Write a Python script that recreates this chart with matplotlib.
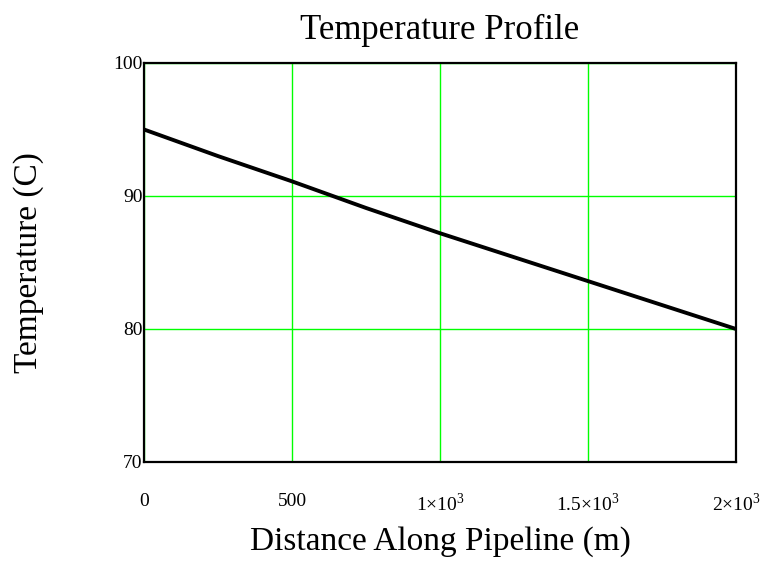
import numpy as np
import matplotlib
matplotlib.use('Agg')
import matplotlib.pyplot as plt

# values
distance = [0, 250, 500, 750, 1000, 1250, 1500, 1750, 2000]
temperature = [95.0, 93.0, 91.1, 89.1, 87.2, 85.4, 83.6, 81.8, 80.0]

x_ticks = [0, 500, 1000, 1500, 2000]
x_labels = ['0', '500', '1×10$^{3}$', '1.5×10$^{3}$', '2×10$^{3}$']
y_ticks = [70, 80, 90, 100]

plt.rcParams['font.family'] = ['Liberation Serif', 'DejaVu Serif']
plt.rcParams['mathtext.fontset'] = 'custom'
plt.rcParams['mathtext.rm'] = 'Liberation Serif'

fig = plt.figure(figsize=(7.71, 5.67), dpi=100)
ax = fig.add_axes([0.1868, 0.1852, 0.7678, 0.7037])

ax.plot(distance, temperature, color='black', linewidth=2.8)
ax.set_xlim(0, 2000)
ax.set_ylim(70, 100)

ax.set_xticks(x_ticks)
ax.set_xticklabels(x_labels, fontsize=14)
ax.set_yticks(y_ticks)
ax.set_yticklabels([str(v) for v in y_ticks], fontsize=14)
ax.tick_params(axis='x', length=0, pad=22)
ax.tick_params(axis='y', length=0, pad=1)

ax.grid(True, color='#00ff00', linewidth=1)
ax.set_axisbelow(True)
for s in ax.spines.values():
    s.set_linewidth(1.6)
    s.set_color('black')

ax.set_title('Temperature Profile', fontsize=25, pad=17)
ax.set_xlabel('Distance Along Pipeline (m)', fontsize=24, labelpad=8)
ax.set_ylabel('Temperature (C)', fontsize=24, labelpad=50)

fig.savefig('out.png', dpi=100)
